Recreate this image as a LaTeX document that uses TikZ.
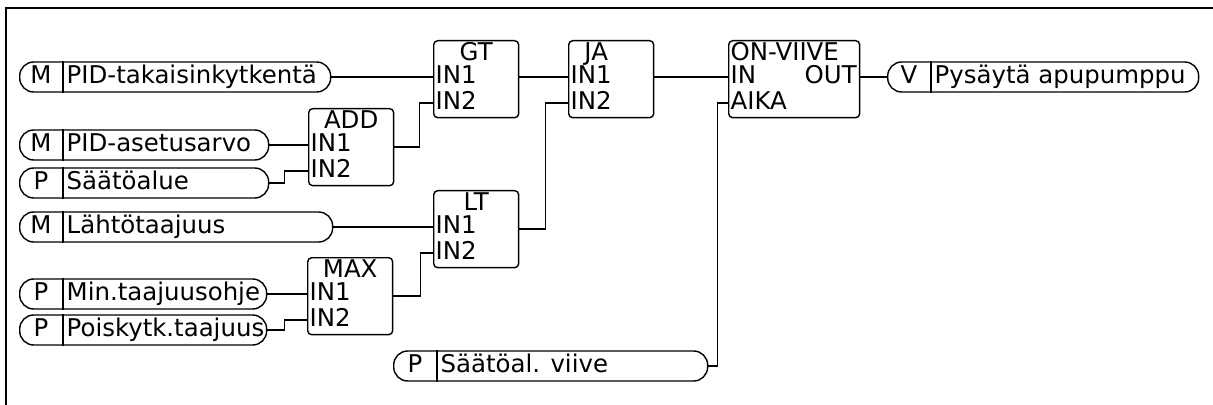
\documentclass[tikz,border=0pt]{standalone}
\usepackage{fontspec}
\setmainfont{DejaVu Sans}
\usetikzlibrary{calc}

\begin{document}
\begin{tikzpicture}[
  x=0.02cm, y=-0.02cm,
  font=\fontsize{13.9}{16}\selectfont,
  line width=0.8pt,
  pill/.style={draw, rounded corners=0.28cm, minimum height=0.6cm, anchor=west, inner sep=0pt},
  blk/.style={draw, rounded corners=0.08cm, minimum width=1.7cm, minimum height=1.54cm, anchor=north west, inner sep=0pt},
  lbl/.style={inner sep=0pt, text height=0.73em, text depth=0pt}]

\useasboundingbox (0,0) rectangle (1213,405);
% frame: only its top and left edge fall inside the picture
\draw[line width=1.1pt] (6,405) -- (6,8) -- (1213,8);

% signals
\node[pill, minimum width=6.22cm] (fb) at (19,77) {};
\node[pill, minimum width=4.98cm] (sp) at (19,145) {};
\node[pill, minimum width=4.98cm] (rng) at (19,183) {};
\node[pill, minimum width=6.26cm] (fout) at (19,227) {};
\node[pill, minimum width=4.94cm] (fmin) at (19,294) {};
\node[pill, minimum width=4.94cm] (foff) at (19,330) {};
\node[pill, minimum width=6.28cm] (dly) at (393,366) {};
\node[pill, minimum width=6.22cm] (stop) at (887,77) {};

\foreach \p/\k/\t in {fb/M/PID-takaisinkytkentä, sp/M/PID-asetusarvo, rng/P/Säätöalue,
    fout/M/Lähtötaajuus, fmin/P/Min.taajuusohje, foff/P/Poiskytk.taajuus,
    dly/P/Säätöal. viive, stop/V/Pysäytä apupumppu} {
  \node[lbl] (\p-k) at ($(\p.west)+(22,0)$) {\k};
  \node[lbl, anchor=west] (\p-t) at ($(\p.west)+(47,0)$) {\t};
  \draw ($(\p.north west)+(44,0)$) -- ($(\p.south west)+(44,0)$);
}

% function blocks
\node[blk] (gt) at (433,40) {};
\node[blk] (ja) at (568,40) {};
\node[blk] (add) at (308,108) {};
\node[blk] (lt) at (433,190) {};
\node[blk] (max) at (307,257) {};
\node[blk, minimum width=2.62cm] (onv) at (728,40) {};

\foreach \b/\t in {gt/GT, add/ADD, lt/LT, max/MAX}
  \node[lbl] (\b-t) at ($(\b.north)+(0,14)$) {\t};
\node[lbl] (ja-t) at ($(ja.north)+(-15,14)$) {JA};
\foreach \b in {gt,ja,add,lt,max} {
  \node[lbl, anchor=west] (\b-in1) at ($(\b.north west)+(2,37)$) {IN1};
  \node[lbl, anchor=west] (\b-in2) at ($(\b.north west)+(2,63)$) {IN2};
}
\node[lbl, anchor=west] (onv-t) at ($(onv.north west)+(2,14)$) {ON-VIIVE};
\node[lbl, anchor=west] (onv-in) at ($(onv.north west)+(2,37)$) {IN};
\node[lbl, anchor=east] (onv-out) at ($(onv.north east)+(-3,37)$) {OUT};
\node[lbl, anchor=west] (onv-aika) at ($(onv.north west)+(2,63)$) {AIKA};

% wiring
\draw (fb.east) -- (gt.west |- gt-in1);
\draw (sp.east) -- (add.west |- add-in1);
\draw (rng.east) -- ++(15,0) |- (add.west |- add-in2);
\draw (add.east) -- ++(25,0) |- (gt.west |- gt-in2);
\draw (gt.east |- gt-in1) -- (ja.west |- ja-in1);
\draw (fout.east) -- (lt.west |- lt-in1);
\draw (fmin.east) -- (max.west |- max-in1);
\draw (foff.east) -- ++(17,0) |- (max.west |- max-in2);
\draw (max.east) -- ++(27,0) |- (lt.west |- lt-in2);
\draw (lt.east) -- ++(26,0) |- (ja.west |- ja-in2);
\draw (ja.east |- ja-in1) -- (onv.west |- onv-in);
\draw (onv.east |- onv-out) -- (stop.west);
\draw (dly.east) -- ++(9,0) |- (onv.west |- onv-aika);
\end{tikzpicture}
\end{document}
